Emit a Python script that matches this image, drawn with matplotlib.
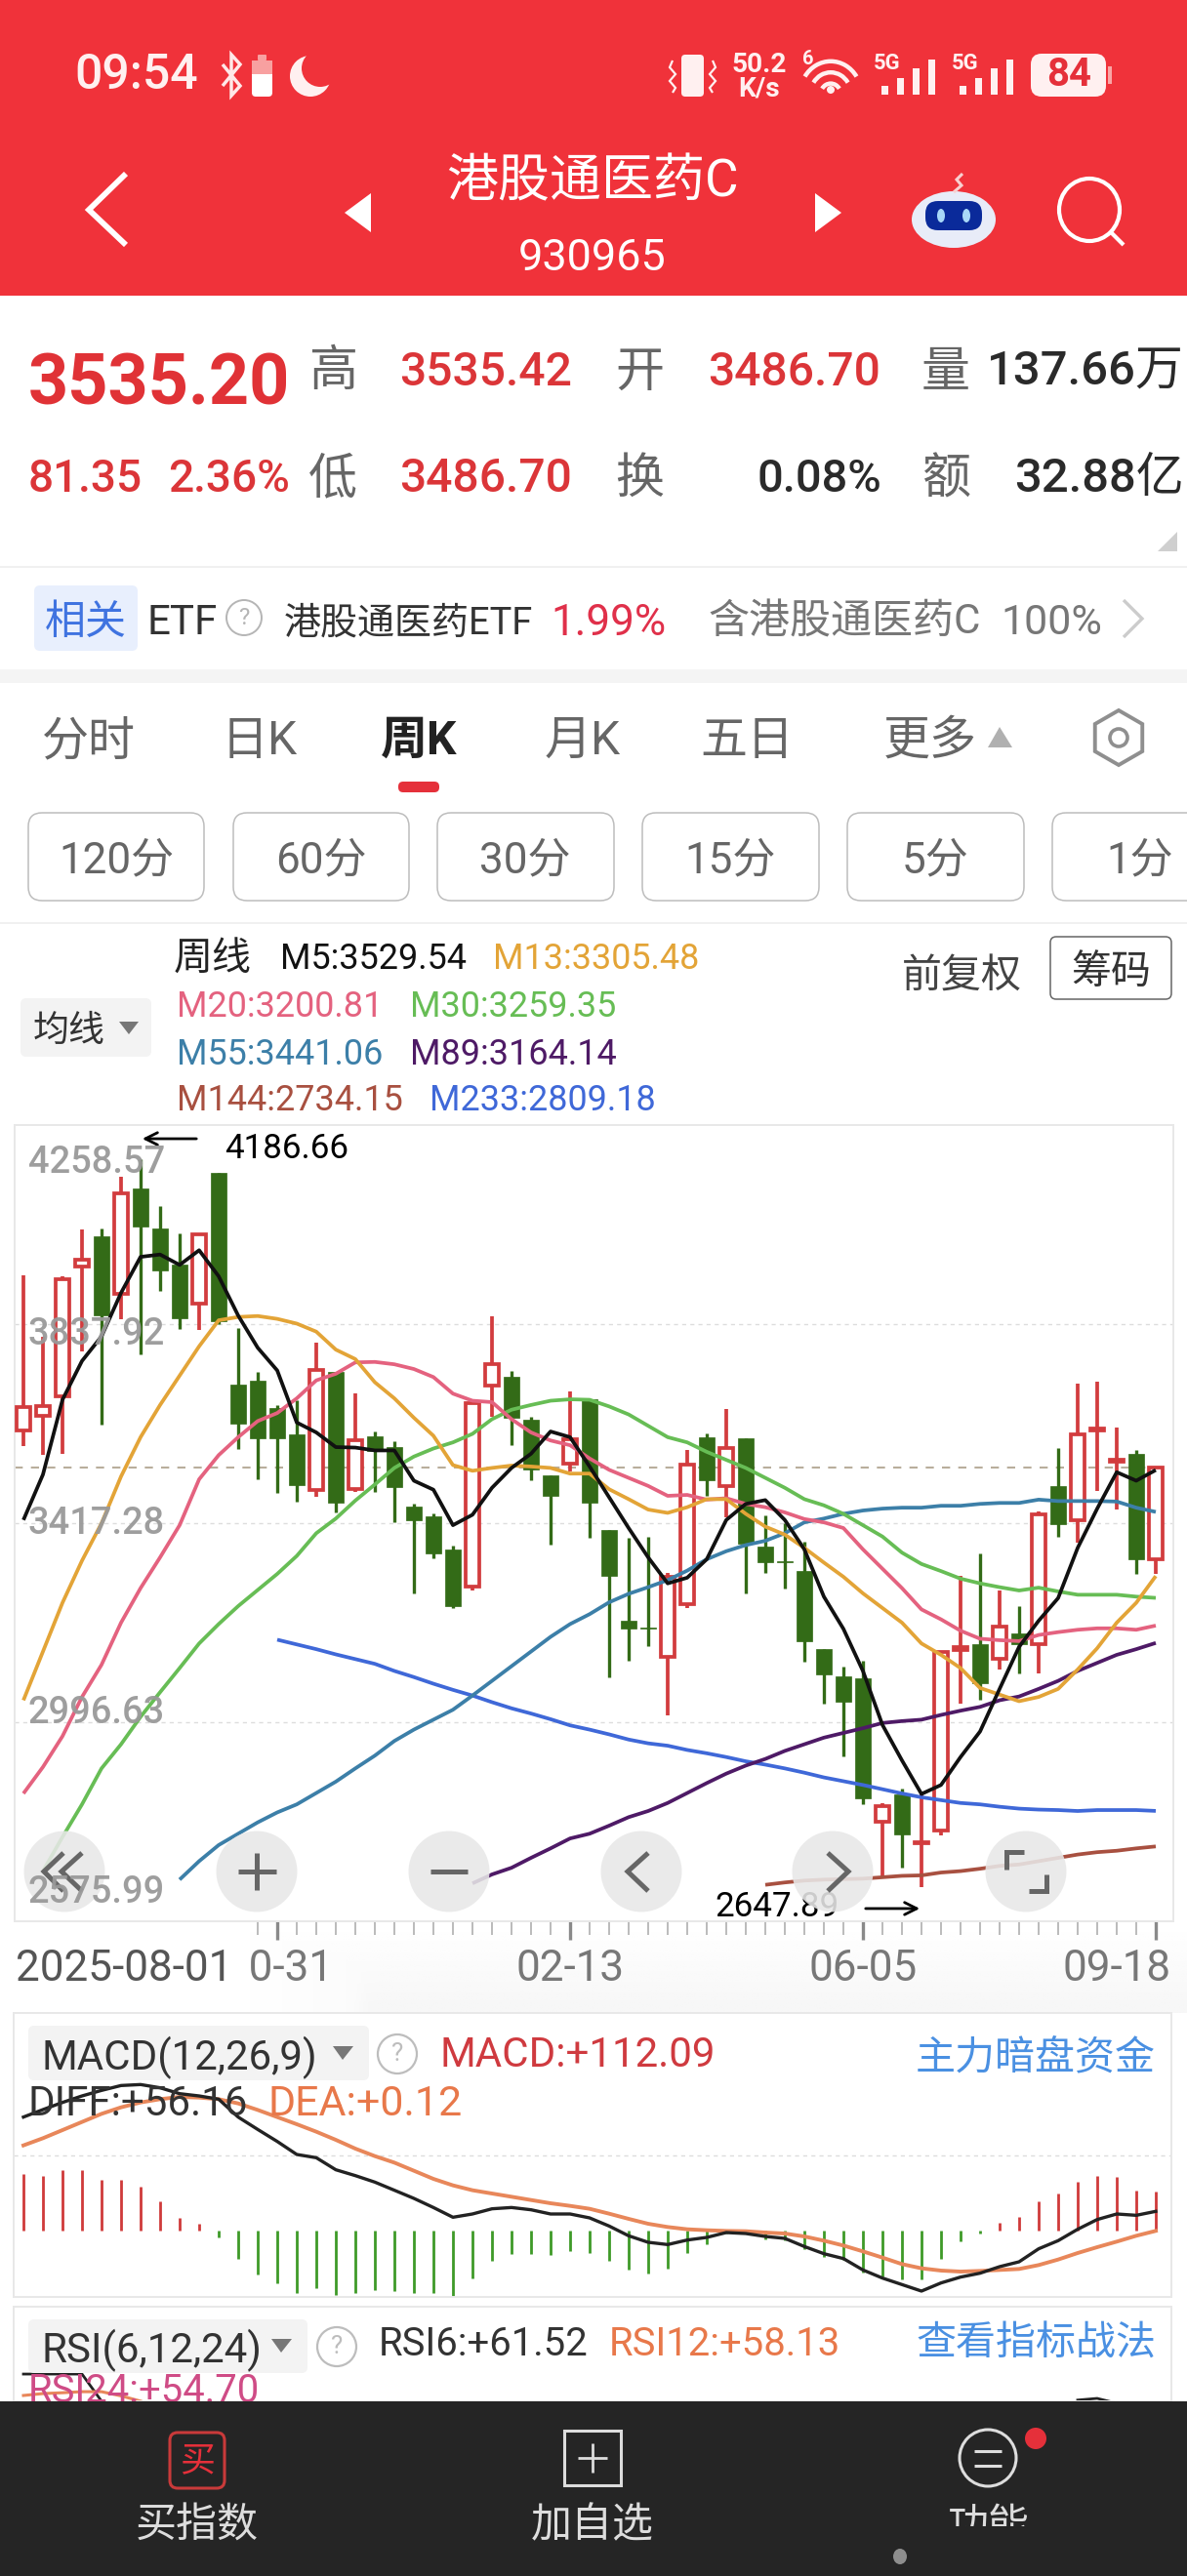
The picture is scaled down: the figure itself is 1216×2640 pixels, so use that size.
import numpy as np
import matplotlib
matplotlib.use("Agg")
import matplotlib.pyplot as plt
from matplotlib.patches import Rectangle, FancyBboxPatch, Circle, Ellipse, Polygon, Arc

plt.rcParams["font.family"] = ["Roboto", "Noto Sans CJK SC", "DejaVu Sans"]

W, H = 1216, 2640

# weekly candles
opens = [3614, 3645, 3685, 3959, 4023, 3902, 4124, 4040, 3963, 3882, 4158, 3710, 3718, 3660, 3604,
         3488, 3736, 3489, 3601, 3578, 3452, 3432, 3362, 3283, 3709, 3727, 3636, 3518, 3544, 3680,
         3402, 3212, 3197, 3134, 3247, 3599, 3496, 3597, 3367, 3336, 3316, 3152, 3093, 3089, 2786,
         2844, 2741, 2767, 3150, 3161, 3130, 3185, 3161, 3496, 3424, 3614, 3548, 3564, 3342]
closes = [3662, 3664, 3933, 3975, 3856, 4114, 4044, 3952, 3851, 4028, 3844, 3628, 3597, 3597, 3498,
          3740, 3461, 3593, 3570, 3494, 3423, 3353, 3242, 3670, 3753, 3640, 3530, 3476, 3594, 3461,
          3306, 3194, 3195, 3303, 3540, 3507, 3576, 3374, 3334, 3334, 3167, 3097, 3039, 2835, 2819,
          2759, 2743, 3146, 3155, 3080, 3198, 3161, 3435, 3416, 3604, 3618, 3552, 3342, 3535]
highs = [3940, 3812, 3939, 4038, 4040, 4149, 4186.66, 4088, 4030, 4028, 4158, 3830, 3737, 3667, 3678,
         3799, 3736, 3691, 3612, 3590, 3458, 3437, 3370, 3674, 3854, 3738, 3643, 3518, 3696, 3680,
         3403, 3387, 3389, 3313, 3571, 3607, 3659, 3597, 3434, 3417, 3379, 3152, 3115, 3126, 2825,
         2856, 2844, 3148, 3305, 3354, 3276, 3241, 3443, 3577, 3713, 3717, 3620, 3571, 3535.42]
lows = [3580, 3561, 3564, 3781, 3625, 3849, 3774, 3908, 3827, 3825, 3838, 3573, 3510, 3481, 3463,
        3473, 3440, 3483, 3483, 3419, 3269, 3343, 3238, 3275, 3643, 3582, 3508, 3372, 3527, 3386,
        3092, 3126, 3157, 3012, 3237, 3475, 3429, 3269, 3312, 3280, 3124, 3035, 2924, 2823, 2669,
        2689, 2647.89, 2757, 3035, 3045, 3109, 3099, 3099, 3389, 3377, 3486, 3447, 3311, 3311]

m5 = [3424, 3520, 3678, 3760, 3812, 3904, 3980, 3985, 3963, 3994, 3939, 3856, 3788, 3740, 3630,
      3609, 3578, 3577, 3571, 3571, 3507, 3488, 3413, 3435, 3492, 3534, 3564, 3611, 3599, 3537,
      3472, 3407, 3345, 3290, 3302, 3341, 3424, 3458, 3466, 3424, 3362, 3262, 3194, 3105, 2991,
      2916, 2845, 2864, 2923, 2977, 3067, 3156, 3211, 3259, 3365, 3448, 3525, 3507, 3529.54]
m13 = [3043, 3146, 3249, 3338, 3417, 3516, 3599, 3667, 3729, 3791, 3846, 3853, 3855, 3849, 3839,
       3822, 3784, 3764, 3715, 3681, 3640, 3602, 3540, 3528, 3534, 3539, 3537, 3534, 3522, 3522,
       3489, 3468, 3446, 3439, 3451, 3468, 3468, 3437, 3410, 3393, 3365, 3334, 3304, 3269, 3238,
       3207, 3163, 3139, 3111, 3069, 3055, 3041, 3050, 3067, 3108, 3153, 3207, 3249, 3305.48]
m20 = [2846, 2902, 2967, 3050, 3118, 3207, 3280, 3345, 3413, 3510, 3561, 3599, 3633, 3650, 3681,
       3719, 3733, 3757, 3758, 3753, 3743, 3726, 3691, 3676, 3673, 3637, 3609, 3592, 3582, 3554,
       3530, 3513, 3496, 3475, 3477, 3467, 3470, 3458, 3451, 3440, 3426, 3419, 3407, 3362, 3321,
       3280, 3235, 3214, 3190, 3173, 3170, 3168, 3181, 3187, 3192, 3195, 3195, 3192, 3200.81]
m30 = [2682, 2754, 2823, 2899, 2950, 3008, 3060, 3111, 3163, 3204, 3242, 3276, 3310, 3348, 3396,
       3427, 3465, 3499, 3534, 3558, 3575, 3588, 3606, 3637, 3657, 3667, 3676, 3679, 3678, 3664,
       3647, 3623, 3599, 3588, 3568, 3551, 3534, 3513, 3492, 3468, 3455, 3437, 3413, 3389, 3355,
       3331, 3316, 3300, 3290, 3282, 3275, 3281, 3273, 3266, 3266, 3266, 3262, 3259.35]
m55 = [2664, 2703, 2737, 2761, 2785, 2806, 2823, 2847, 2871, 2899, 2926, 2957, 2981, 3002, 3023,
       3053, 3084, 3115, 3146, 3177, 3204, 3225, 3250, 3268, 3282, 3297, 3317, 3341, 3358, 3371,
       3380, 3396, 3419, 3427, 3437, 3444, 3448, 3450, 3450, 3454, 3454, 3458, 3460, 3460, 3467,
       3464, 3464, 3464, 3463, 3450, 3441.06]
m89 = [2656, 2675, 2689, 2710, 2730, 2751, 2761, 2778, 2796, 2809, 2826, 2847, 2868, 2888, 2905,
       2919, 2936, 2950, 2964, 2974, 2984, 2995, 2999, 3002, 3012, 3021, 3029, 3043, 3051, 3067,
       3084, 3105, 3122, 3139, 3151, 3164.14]
m144 = [2653, 2658, 2662, 2664, 2665, 2666, 2669, 2672, 2673, 2679, 2682, 2687, 2693, 2696, 2703,
        2710, 2717, 2722, 2725, 2730, 2734.15]
m233 = [3171, 3161, 3151, 3140, 3130, 3120, 3105, 3092, 3078, 3065, 3053, 3039, 3026, 3015, 3003,
        2990, 2981, 2971, 2960, 2952, 2947, 2938, 2931, 2923, 2914, 2907, 2899, 2890, 2880, 2872,
        2864, 2855, 2846, 2838, 2832, 2826, 2823, 2818, 2814, 2812, 2811, 2809, 2811, 2811, 2811, 2809.18]
ma_series = [(m233, 13, "#3F68D8"), (m144, 38, "#A85040"), (m89, 23, "#4E1A66"), (m55, 8, "#3C7FA8"),
             (m30, 1, "#67BD55"), (m20, 0, "#E4627F"), (m13, 0, "#E3A437"), (m5, 0, "#111111")]

y_levels = [4258.57, 3837.92, 3417.28, 2996.63, 2575.99]
y_label_px = [1188, 1364, 1557, 1752, 1936]
last_price = 3535.20
date_ticks = [13, 28, 43, 58]
date_labels = ["10-31", "02-13", "06-05", "09-18"]

macd_hist = [163.5, 158.8, 175.6, 175.6, 146.6, 146.6, 126.1, 85.9, 37.4, 21.5, -18.7, -79.4, -124.2, -151.3,
             -179.3, -163.5, -184.9, -177.5, -170, -172.8, -177.5, -179.3, -189.6, -135.4, -85.9, -67.2, -67.2,
             -70, -58.8, -63.5, -85.9, -110.2, -121.4, -109.3, -63.5, -37.4, -7.5, -4.7, -23.4, -28, -51.4, -74.7,
             -84.1, -119.6, -130.8, -140.1, -138.2, -79.4, -30.8, -7.5, 23.4, 39.2, 84.1, 107.4, 142, 158.8,
             154.1, 116.8, 112.09]
macd_diff = [326.9, 348.4, 368.9, 387.6, 403.5, 417.5, 420.3, 411, 394.1, 387.6, 378.3, 326.9, 291.4, 256.9,
             219.5, 210.2, 175.6, 158.8, 140.1, 116.8, 93.4, 67.2, 39.2, 48.6, 63.5, 67.2, 60.7, 48.6, 48.6,
             37.4, 14, -14, -32.7, -39.2, -26.2, -18.7, -4.7, -7.5, -15.9, -21.5, -44.8, -65.4, -79.4, -112.1,
             -135.4, -154.1, -172.8, -149.4, -132.6, -121.4, -102.7, -88.7, -51.4, -28, 4.7, 32.7, 48.6, 44.8, 56.16]
macd_dea = [245.6, 266.2, 289.5, 312.9, 336.2, 354.9, 368.9, 378.3, 384.8, 382.9, 378.3, 366.1, 347.4, 326.9,
            306.4, 284.9, 261.5, 236.3, 214.8, 196.1, 172.8, 149.4, 130.8, 116.8, 107.4, 98.1, 88.7, 79.4, 71.9,
            63.5, 49.5, 34.6, 20.5, 11.2, 4.7, 1.9, 0, -0.9, -4.7, -7.5, -15.9, -28, -42, -58.8, -76.6, -95.3,
            -107.4, -113.9, -116.8, -114.9, -112.1, -109.3, -98.1, -82.2, -63.5, -46.7, -30.8, -14, 0.12]

# only the top of the RSI pane shows above the bottom bar
rsi6_left = [67.9, 67.9, 67.9, 67.9, 55.0]
rsi6_right = [55.5, 56.3, 54.0]
rsi12_left = [57.7, 58.6, 59.0, 59.5, 59.5, 57.5, 55.0]

RED = "#D23C3E"
GREEN = "#336B17"
GREY = "#666666"
DARK = "#2A2A2A"

fig = plt.figure(figsize=(W / 100, H / 100), dpi=100, facecolor="white")


def pane(left, top, right, bottom, z):
    return fig.add_axes([left / W, 1 - bottom / H, (right - left) / W, (bottom - top) / H], zorder=z)


def canvas(z):
    a = fig.add_axes([0, 0, 1, 1], zorder=z)
    a.set_xlim(0, W)
    a.set_ylim(H, 0)
    a.axis("off")
    a.patch.set_alpha(0)
    return a


def txt(a, x, y, s, size, color=DARK, ha="center", weight="normal", **kw):
    # +4: matplotlib centres on the glyph box, the picture sits a bit lower
    return a.text(x, y + 4, s, fontsize=size * 0.72, color=color, ha=ha, va="center", weight=weight, **kw)


def box(a, x0, y0, x1, y1, r=0, fc="none", ec="none", lw=1.0, z=2):
    a.add_patch(FancyBboxPatch((x0, y0), x1 - x0, y1 - y0, boxstyle=f"round,pad=0,rounding_size={r}",
                               fc=fc, ec=ec, lw=lw, zorder=z))


def poly(a, xs, ys, color, lw, **kw):
    a.plot(xs, ys, color=color, lw=lw, solid_capstyle=kw.pop("cap", "butt"), solid_joinstyle="miter", **kw)


ui = canvas(0)

# header
ui.add_patch(Rectangle((0, 0), W, 303, fc="#F0323A", ec="none"))
txt(ui, 76, 73, "09:54", 50, "#FFF0F0", ha="left", weight="medium")
poly(ui, [228, 246, 237, 237, 246, 228], [66, 88, 98, 56, 66, 88], "#FFE8E8", 2.5)
box(ui, 258, 62, 279, 99, r=4, fc="white")
ui.add_patch(Rectangle((258, 62), 21, 14, fc="#F8A0A0", ec="none", zorder=3))
box(ui, 264, 56, 273, 62, r=1, fc="#F8A0A0")
ui.add_patch(Circle((318, 78), 21, fc="#FFF0F0", ec="none", zorder=2))
ui.add_patch(Circle((328, 70), 19, fc="#F0323A", ec="none", zorder=3))

box(ui, 698, 56, 721, 99, r=4, fc="#FFF0F0")
poly(ui, [689, 686, 692, 686, 692, 689], [62, 69, 76, 83, 90, 95], "#FFF0F0", 1.6)
poly(ui, [730, 733, 727, 733, 727, 730], [62, 69, 76, 83, 90, 95], "#FFF0F0", 1.6)
txt(ui, 778, 62, "50.2", 28, "#FFF0F0", weight="bold")
txt(ui, 778, 87, "K/s", 28, "#FFF0F0", weight="bold")
txt(ui, 828, 56, "6", 20, "#FFF0F0", weight="bold")
for r in [36, 24, 12]:
    ui.add_patch(Arc((851, 97), r * 1.75, r * 1.9, theta1=215, theta2=325, color="#FFF0F0", lw=3.2))
ui.add_patch(Circle((851, 92), 4, fc="#FFF0F0", ec="none"))
for left in [903, 983]:
    txt(ui, left + 6, 61, "5G", 22, "#FFF0F0", weight="bold")
    for k, top in enumerate([88, 80, 70, 61]):
        ui.add_patch(Rectangle((left + k * 16, top), 7, 97 - top, fc="#FFF0F0", ec="none"))
box(ui, 1056, 55, 1133, 99, r=11, fc="#FFF0F0")
ui.add_patch(Rectangle((1135, 68), 4, 18, fc="#F9A6A6", ec="none"))
txt(ui, 1095, 73, "84", 40, "#E5303A", weight="bold")

poly(ui, [129, 91, 129], [178, 215, 251], "white", 4.2)
ui.add_patch(Polygon([(380, 198), (353, 218), (380, 238)], fc="white", ec="none"))
ui.add_patch(Polygon([(835, 198), (862, 218), (835, 238)], fc="white", ec="none"))
txt(ui, 607, 183, "港股通医药C", 53, "white")
txt(ui, 607, 261, "930965", 45, "white")
ui.add_patch(Ellipse((977, 225), 86, 58, fc="#E8ECF8", ec="none", zorder=2))
box(ui, 948, 206, 1006, 236, r=13, fc="#0A2A9A", z=3)
ui.add_patch(Ellipse((964, 221), 8, 14, fc="#A8D8F8", ec="none", zorder=4))
ui.add_patch(Ellipse((990, 221), 8, 14, fc="#A8D8F8", ec="none", zorder=4))
poly(ui, [977, 985, 980, 986], [197, 190, 184, 178], "#F8D0D0", 2.2)
ui.add_patch(Ellipse((1116, 215), 62, 64, fc="none", ec="white", lw=3))
poly(ui, [1138, 1151], [238, 251], "white", 3)

# quote block
txt(ui, 29, 391, "3535.20", 72, "#E03236", ha="left", weight="bold")
txt(ui, 341, 377, "高", 50, GREY)
txt(ui, 409, 378, "3535.42", 48, "#DB3538", ha="left", weight="medium")
txt(ui, 655, 378, "开", 50, GREY)
txt(ui, 725, 378, "3486.70", 48, "#DB3538", ha="left", weight="medium")
txt(ui, 969, 378, "量", 50, GREY)
txt(ui, 1213, 378, "137.66万", 49, DARK, ha="right", weight="medium")
txt(ui, 29, 487, "81.35", 46, "#DB3538", ha="left", weight="medium")
txt(ui, 172, 487, "2.36%", 46, "#DB3538", ha="left", weight="medium")
txt(ui, 341, 487, "低", 50, GREY)
txt(ui, 409, 487, "3486.70", 48, "#DB3538", ha="left", weight="medium")
txt(ui, 655, 487, "换", 50, GREY)
txt(ui, 903, 487, "0.08%", 47, DARK, ha="right", weight="medium")
txt(ui, 969, 487, "额", 50, GREY)
txt(ui, 1213, 487, "32.88亿", 49, DARK, ha="right", weight="medium")
ui.add_patch(Polygon([(1186, 565), (1206, 565), (1206, 545)], fc="#CFCFCF", ec="none"))
ui.plot([0, W], [581, 581], color="#EDEDED", lw=1.2)

box(ui, 35, 600, 141, 667, r=6, fc="#E8EFFD")
txt(ui, 88, 634, "相关", 42, "#3F73E0")
txt(ui, 150, 634, "ETF", 42, "#333333", ha="left")
ui.add_patch(Circle((250, 633), 18, fc="none", ec="#B5B5B5", lw=1.4))
txt(ui, 250, 629, "?", 24, "#B5B5B5")
txt(ui, 291, 635, "港股通医药ETF", 38, "#333333", ha="left")
txt(ui, 564, 635, "1.99%", 44, "#E0304A", ha="left")
txt(ui, 725, 634, "含港股通医药C", 42, "#777777", ha="left")
txt(ui, 1025, 635, "100%", 43, "#777777", ha="left")
poly(ui, [1151, 1170, 1151], [615, 634, 653], "#CCCCCC", 2.4)
ui.add_patch(Rectangle((0, 686), W, 14, fc="#F4F4F4", ec="none"))

# period tabs
for x, s in zip([91, 266, 597, 765, 953], ["分时", "日K", "月K", "五日", "更多"]):
    txt(ui, x, 756, s, 48, GREY)
txt(ui, 429, 756, "周K", 48, "#222222", weight="bold")
ui.add_patch(Polygon([(1012, 766), (1024, 745), (1037, 766)], fc="#B0B0B0", ec="none"))
ang = np.deg2rad(np.arange(30, 390, 60))
ui.add_patch(Polygon(np.c_[1146 + 28 * np.cos(ang), 756 + 28 * np.sin(ang)], fc="none", ec="#8F8F8F", lw=2.8))
ui.add_patch(Circle((1146, 756), 9, fc="none", ec="#8F8F8F", lw=2.6))
box(ui, 408, 801, 450, 812, r=5, fc="#E5303A")

for x0, x1, xc, s in zip([29, 239, 448, 658, 868, 1078], [209, 419, 629, 839, 1049, 1240],
                         [119, 329, 538, 748, 958, 1168], ["120分", "60分", "30分", "15分", "5分", "1分"]):
    box(ui, x0, 833, x1, 923, r=14, ec="#BDBDBD", lw=1.1)
    txt(ui, xc, 878, s, 44, GREY)
ui.plot([0, W], [946, 946], color="#EDEDED", lw=1.2)

# MA legend
txt(ui, 218, 979, "周线", 40, "#222222")
legend_rows = [(287, 979, "M5:3529.54", "#111111"), (505, 979, "M13:3305.48", "#E3A437"),
               (181, 1028, "M20:3200.81", "#E4627F"), (420, 1028, "M30:3259.35", "#67BD55"),
               (181, 1077, "M55:3441.06", "#3C7FA8"), (420, 1077, "M89:3164.14", "#4E1A66"),
               (181, 1124, "M144:2734.15", "#A85040"), (440, 1124, "M233:2809.18", "#3F68D8")]
for x, y, s, c in legend_rows:
    txt(ui, x, y, s, 36, c, ha="left")
box(ui, 21, 1023, 155, 1083, r=6, fc="#F3F3F3")
txt(ui, 71, 1053, "均线", 37, "#333333")
ui.add_patch(Polygon([(122, 1047), (142, 1047), (132, 1060)], fc="#777777", ec="none", zorder=3))
txt(ui, 985, 997, "前复权", 41, "#444444")
box(ui, 1076, 960, 1200, 1024, r=6, ec="#666666", lw=1.1)
txt(ui, 1138, 992, "筹码", 41, "#333333")

# strip with the date axis and the pane gaps
shade = np.linspace(1.0, 0.965, 40).reshape(-1, 1) * np.ones((40, 30))
shade[:, :4] = np.maximum(shade[:, :4], np.linspace(1.0, 0.985, 4))
ui.imshow(shade, extent=(240, W, 2063, 1969), cmap="gray", vmin=0, vmax=1, aspect="auto", zorder=0)
ui.set_xlim(0, W)
ui.set_ylim(H, 0)

# candles
ax = pane(14.5, 1153, 1201.5, 1969, 1)
n = len(opens)
xs = np.arange(n)
o, c, hi, lo = map(np.array, (opens, closes, highs, lows))
up = c >= o
ax.vlines(xs[up], lo[up], hi[up], color=RED, lw=2.7, zorder=2)
ax.vlines(xs[~up], lo[~up], hi[~up], color=GREEN, lw=2.4, zorder=2)
ax.bar(xs[up], (c - o)[up], bottom=o[up], width=0.74, fc="white", ec=RED, lw=2.7, zorder=3)
ax.bar(xs[~up], (c - o)[~up], bottom=o[~up], width=0.76, fc=GREEN, ec=GREEN, lw=0.5, zorder=3)
for vals, start, col in ma_series:
    ax.plot(np.arange(start, start + len(vals)), vals, color=col, lw=2.7, zorder=4, solid_capstyle="butt")
for lev in y_levels[1:4]:
    ax.axhline(lev, color="#DDDDDD", lw=1.0, ls=(0, (3, 3)), zorder=1)
ax.plot([-0.475, 58.6], [last_price, last_price], color="#B9AE9C", lw=1.5, ls=(0, (4, 4)), zorder=1)
ax.set_xlim(-0.475, 58.875)
ax.set_ylim(y_levels[-1], y_levels[0])
ax.set_yticks([])
for s in ax.spines.values():
    s.set_color("#E8E8E8")
    s.set_linewidth(1.4)
ax.set_xticks(date_ticks)
ax.set_xticklabels([])
ax.set_xticks(np.arange(12, n), minor=True)
ax.tick_params(axis="x", which="major", length=14, width=2.4, color="#8A8A8A", direction="out")
ax.tick_params(axis="x", which="minor", length=10, width=1.1, color="#A8A8A8", direction="out")

xtr = ax.get_xaxis_transform()
below = -49 / 816
date_px = 44 * 0.72
ax.text(13.1, below, date_labels[0], transform=xtr, fontsize=date_px, color="#777777", ha="center", va="center")
for i, s in zip(date_ticks[1:3], date_labels[1:3]):
    ax.text(i, below, s, transform=xtr, fontsize=date_px, color="#777777", ha="center", va="center")
ax.text(1.0 - 2 / 1187, below, date_labels[3], transform=ax.transAxes, fontsize=date_px, color="#777777",
        ha="right", va="center")
ax.text(0.0015, below, "2025-08-01", transform=ax.transAxes, fontsize=date_px, color="#555555", ha="left",
        va="center", zorder=6, bbox=dict(fc="white", ec="none", pad=6))

# extreme markers
i_hi = int(np.argmax(hi))
i_lo = int(np.argmin(lo))
ax.annotate("", xy=(i_hi - 0.05, hi[i_hi] + 43), xytext=(i_hi + 3, hi[i_hi] + 43),
            arrowprops=dict(arrowstyle="->,head_length=0.9,head_width=0.45", color="black", lw=2), zorder=7)
ax.text(i_hi + 4.3, hi[i_hi] + 22, f"{hi[i_hi]:.2f}", fontsize=35 * 0.72, color="black", va="center", ha="left",
        zorder=7)
ax.annotate("", xy=(i_lo + 0.05, lo[i_lo] - 45), xytext=(i_lo - 3, lo[i_lo] - 45),
            arrowprops=dict(arrowstyle="->,head_length=0.9,head_width=0.45", color="black", lw=2), zorder=7)
ax.text(i_lo - 4.2, lo[i_lo] - 41, f"{lo[i_lo]:.2f}", fontsize=35 * 0.72, color="black", va="center", ha="right",
        zorder=7)

# macd pane
mx = pane(14, 2063, 1200, 2354, 1)
hist = np.array(macd_hist)
mx.vlines(xs, 0, hist, colors=np.where(hist >= 0, "#CF3A3A", "#3E9A28"), lw=2.0, zorder=2)
mx.plot(xs, macd_diff, color="#222222", lw=2.4, zorder=4)
mx.plot(xs, macd_dea, color="#E8875A", lw=2.8, zorder=3)
mx.axhline(217.6, color="#DDDDDD", lw=1.0, ls=(0, (3, 3)), zorder=1)
mx.set_xlim((14 - 24) / 20, (1200 - 24) / 20)
mx.set_ylim(-189.6, 625.8)
mx.set_xticks([])
mx.set_yticks([])
for s in mx.spines.values():
    s.set_color("#E8E8E8")
    s.set_linewidth(1.4)

# rsi pane, cut off by the bottom bar
rx = pane(14, 2364, 1200, 2461, 1)
rx.plot(np.arange(0, 5), rsi6_left, color="#222222", lw=2.0)
rx.plot(np.arange(54, 57), rsi6_right, color="#222222", lw=2.0)
rx.plot(np.arange(0, 7), rsi12_left, color="#E8875A", lw=2.2)
rx.set_xlim((14 - 24) / 20, (1200 - 24) / 20)
rx.set_ylim(54.9, 100)
rx.set_xticks([])
rx.set_yticks([])
for s in rx.spines.values():
    s.set_color("#E8E8E8")
    s.set_linewidth(1.4)

top = canvas(5)

# price labels sit over the candles
for lev, y in zip(y_levels, y_label_px):
    txt(top, 29, y, f"{lev:.2f}", 38, "#999999", ha="left", weight="medium", alpha=0.95)

# chart buttons
for x in [66, 263, 460, 657, 853, 1051]:
    top.add_patch(Circle((x, 1918), 41.5, fc="#E8E8E8", ec="none", alpha=0.88))
icon = "#666666"
poly(top, [65, 45, 65], [1899, 1918, 1938], icon, 3.6)
poly(top, [84, 63, 84], [1899, 1918, 1938], icon, 3.6)
poly(top, [244, 283], [1918, 1918], icon, 3.6)
poly(top, [263, 263], [1899, 1937], icon, 3.6)
poly(top, [441, 479], [1918, 1918], icon, 3.6)
poly(top, [664, 643, 664], [1899, 1918, 1938], icon, 3.6)
poly(top, [848, 869, 848], [1899, 1918, 1938], icon, 3.6)
poly(top, [1049, 1031, 1031], [1898, 1898, 1916], icon, 3.6)
poly(top, [1054, 1072, 1072], [1938, 1938, 1921], icon, 3.6)

# macd header
box(top, 29, 2076, 378, 2132, r=6, fc="#F3F3F3", z=1)
txt(top, 43, 2105, "MACD(12,26,9)", 42, "#333333", ha="left")
top.add_patch(Polygon([(341, 2097), (362, 2097), (351, 2111)], fc="#777777", ec="none"))
top.add_patch(Circle((407, 2105), 20, fc="none", ec="#BDBDBD", lw=1.6))
txt(top, 407, 2101, "?", 26, "#BDBDBD")
txt(top, 451, 2103, "MACD:+112.09", 42, "#CF3A3F", ha="left")
txt(top, 938, 2105, "主力暗盘资金", 41, "#4A90E2", ha="left")
txt(top, 29, 2152, "DIFF:+56.16", 42, "#333333", ha="left")
txt(top, 275, 2152, "DEA:+0.12", 43, "#E8784A", ha="left")

# rsi header
box(top, 29, 2377, 315, 2432, r=6, fc="#F3F3F3", z=1)
txt(top, 43, 2405, "RSI(6,12,24)", 42, "#333333", ha="left")
top.add_patch(Polygon([(278, 2397), (299, 2397), (288, 2411)], fc="#777777", ec="none"))
top.add_patch(Circle((345, 2405), 20, fc="none", ec="#BDBDBD", lw=1.6))
txt(top, 345, 2401, "?", 26, "#BDBDBD")
txt(top, 388, 2399, "RSI6:+61.52", 40, "#333333", ha="left")
txt(top, 624, 2399, "RSI12:+58.13", 40, "#E8784A", ha="left")
txt(top, 938, 2397, "查看指标战法", 41, "#4A90E2", ha="left")
txt(top, 29, 2447, "RSI24:+54.70", 40, "#CF4C86", ha="left")

# bottom bar
top.add_patch(Rectangle((0, 2461), W, 179, fc="#252525", ec="none", zorder=8))
box(top, 174, 2493, 230, 2550, r=8, ec="#C93A3A", lw=2.2, z=9)
txt(top, 202, 2518, "买", 36, "#E5303A", zorder=9)
txt(top, 202, 2585, "买指数", 42, "#DDDDDD", zorder=9)
top.add_patch(Rectangle((578, 2491), 58, 56, fc="none", ec="#DDDDDD", lw=2.2, zorder=9))
poly(top, [592, 622], [2519, 2519], "#DDDDDD", 2.0, zorder=9)
poly(top, [607, 607], [2504, 2534], "#DDDDDD", 2.0, zorder=9)
txt(top, 607, 2585, "加自选", 42, "#DDDDDD", zorder=9)
top.add_patch(Circle((1012, 2519), 29, fc="none", ec="#DDDDDD", lw=2.2, zorder=9))
poly(top, [998, 1026], [2512, 2512], "#DDDDDD", 2.2, zorder=9)
poly(top, [998, 1026], [2527, 2527], "#DDDDDD", 2.2, zorder=9)
top.add_patch(Circle((1061, 2499), 11, fc="#E5303A", ec="none", zorder=9))
txt(top, 1012, 2585, "功能", 42, "#DDDDDD", zorder=9)
# the lower part of that label is blurred away in the screenshot
top.add_patch(Rectangle((900, 2589), 316, 51, fc="#252525", ec="none", zorder=10))
top.add_patch(Ellipse((922, 2620), 14, 16, fc="#D5D5D5", ec="none", alpha=0.6, zorder=11))

fig.savefig("out.png", dpi=100, facecolor="white")
